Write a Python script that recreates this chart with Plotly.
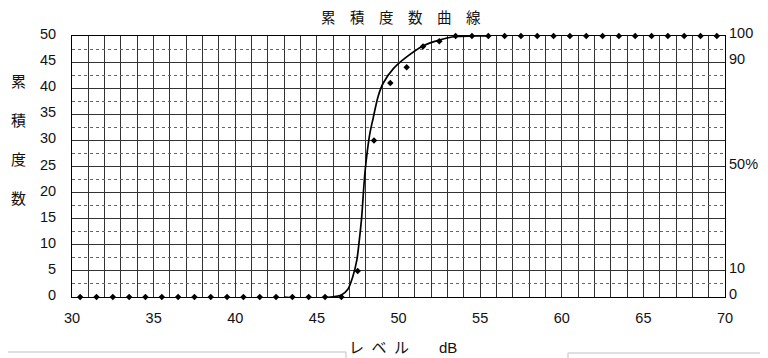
import plotly.graph_objects as go

# ---- data ----
level_db = [30.5, 31.5, 32.5, 33.5, 34.5, 35.5, 36.5, 37.5, 38.5, 39.5,
            40.5, 41.5, 42.5, 43.5, 44.5, 45.5, 46.5, 47.5, 48.5, 49.5,
            50.5, 51.5, 52.5, 53.5, 54.5, 55.5, 56.5, 57.5, 58.5, 59.5,
            60.5, 61.5, 62.5, 63.5, 64.5, 65.5, 66.5, 67.5, 68.5, 69.5]
cum_freq = [0, 0, 0, 0, 0, 0, 0, 0, 0, 0,
            0, 0, 0, 0, 0, 0, 0, 5, 30, 41,
            44, 48, 49, 50, 50, 50, 50, 50, 50, 50,
            50, 50, 50, 50, 50, 50, 50, 50, 50, 50]

curve_x = [43.0, 44.0, 45.0, 46.0, 46.5, 46.9, 47.2, 47.45, 47.6, 47.75,
           47.85, 47.95, 48.1, 48.25, 48.45, 48.75, 49.05, 49.7, 50.5, 51.5,
           52.5, 53.5, 54.5, 55.5]
curve_y = [0.0, -0.25, -0.2, 0.05, 0.4, 1.5, 3.9, 7.1, 10.9, 15.5,
           20.0, 24.0, 28.2, 31.4, 34.3, 38.4, 40.9, 43.8, 46.0, 48.1,
           49.2, 49.9, 50.0, 50.0]

left_ticks = [0, 5, 10, 15, 20, 25, 30, 35, 40, 45, 50]
x_ticks = [30, 35, 40, 45, 50, 55, 60, 65, 70]
pct_vals = [0, 10, 50, 90, 100]
pct_text = ["0", "10", "50%", "90", "100"]

TITLE = "累\u3000積\u3000度\u3000数\u3000曲\u3000線"
YTITLE = "累<br><br>積<br><br>度<br><br>数"
XTITLE = "レ\u2002ベ\u2002ル\u3000\u3000dB"

FONT = "Liberation Sans, Arial, Noto Sans CJK JP, sans-serif"
CJK = "Noto Sans CJK JP, sans-serif"

# the page body adds an 8px margin, so the figure is 8px smaller and all
# screen positions below are given in window pixels and shifted by OFF
OFF = 8
W, H = 768 - OFF, 358 - OFF
PL, PR, PT, PB = 72, 725, 36, 297          # plot box in window pixels
L, R, T, B = PL - OFF, (768 - OFF) - (PR - OFF), PT - OFF, (358 - OFF) - (PB - OFF)
PW, PH = PR - PL, PB - PT


def px(xw):
    return (xw - PL) / PW


def py(yw):
    return (PB - yw) / PH


fig = go.Figure()
fig.add_trace(go.Scatter(x=curve_x, y=curve_y, mode="lines",
                         line=dict(color="black", width=1.7, shape="spline", smoothing=0.8),
                         cliponaxis=False, hoverinfo="skip", showlegend=False))
fig.add_trace(go.Scatter(x=level_db, y=cum_freq, mode="markers",
                         marker=dict(symbol="diamond", size=5, color="black"),
                         cliponaxis=False, showlegend=False))
# invisible trace to activate the right axis
fig.add_trace(go.Scatter(x=[30, 70], y=[0, 100], yaxis="y2", mode="markers",
                         marker=dict(opacity=0), hoverinfo="skip", showlegend=False))

grid_col = "#333333"
fig.update_layout(
    width=W, height=H,
    margin=dict(l=L, r=R, t=T, b=B, pad=0, autoexpand=False),
    paper_bgcolor="white", plot_bgcolor="white",
    font=dict(family=FONT, size=14.5, color="#111111"),
    xaxis=dict(range=[30, 70], tickvals=x_ticks, showgrid=True, gridcolor=grid_col, gridwidth=1,
               minor=dict(dtick=1, showgrid=True, gridcolor=grid_col, gridwidth=1, ticks=""),
               showline=True, linecolor="black", linewidth=1, mirror=True,
               ticks="", ticklabelstandoff=8, zeroline=False, fixedrange=True),
    yaxis=dict(range=[0, 50], tickvals=left_ticks, showgrid=True, gridcolor=grid_col, gridwidth=1,
               minor=dict(dtick=2.5, showgrid=True, gridcolor="#666666", gridwidth=1, griddash="dot", ticks=""),
               showline=True, linecolor="black", linewidth=1, mirror=True,
               ticks="", ticklabelstandoff=12, ticklabelshift=-2, zeroline=False, fixedrange=True),
    yaxis2=dict(range=[0, 100], overlaying="y", side="right", tickvals=pct_vals, ticktext=pct_text,
                showgrid=False, zeroline=False, showline=False, ticks="",
                ticklabelstandoff=3, ticklabelshift=-3, fixedrange=True),
)

fig.add_annotation(text=TITLE, xref="paper", yref="paper", x=px(401), y=py(16),
                   showarrow=False, font=dict(family=CJK, size=14.5, color="#111111"),
                   xanchor="center", yanchor="middle")
fig.add_annotation(text=YTITLE, xref="paper", yref="paper", x=px(18), y=py(139),
                   showarrow=False, font=dict(family=CJK, size=15, color="#111111"),
                   xanchor="center", yanchor="middle")
fig.add_annotation(text=XTITLE, xref="paper", yref="paper", x=px(403), y=py(347),
                   showarrow=False, font=dict(family=FONT, size=15, color="#111111"),
                   xanchor="center", yanchor="middle")

# faint scanned-page frame lines (decoration), window pixels
frame = [
    (0, 6, 318, 6), (318, 4, 484, 4), (318, 4, 318, 8), (484, 0, 484, 5), (484, 5, 768, 5),
    (4, 6, 4, 352), (4, 352, 346, 352), (346, 352, 346, 358),
    (568, 353, 768, 353), (568, 353, 568, 358),
]
for x0, y0, x1, y1 in frame:
    fig.add_shape(type="line", xref="paper", yref="paper", x0=px(x0), y0=py(y0), x1=px(x1), y1=py(y1),
                  line=dict(color="#d4d4d4", width=1.5), layer="below")

fig.write_html("out.html")
